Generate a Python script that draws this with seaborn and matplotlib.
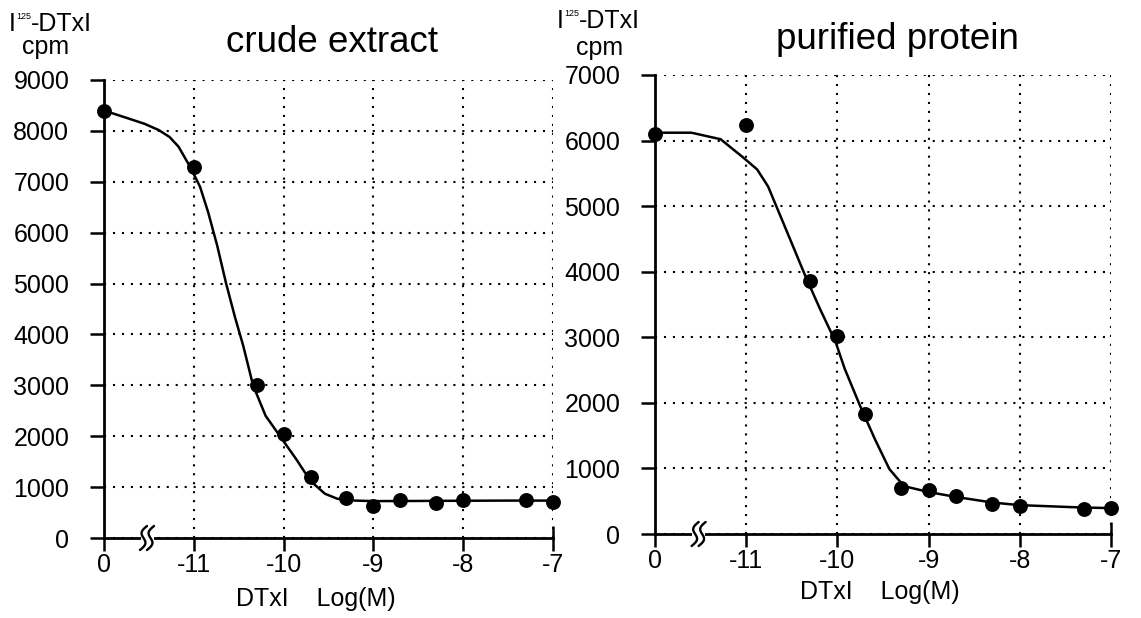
import numpy as np
import pandas as pd
import matplotlib
matplotlib.use("Agg")
import matplotlib.pyplot as plt
import seaborn as sns

# ---------------- data ----------------
# "0" (no DTxI) is drawn at position -12 on the log axis
log_conc = [-12, -11, -10.3, -10, -9.7, -9.3, -9, -8.7, -8.3, -8, -7.3, -7]
crude_cpm = [8400, 7290, 3000, 2050, 1190, 780, 630, 750, 690, 750, 740, 710]
purified_cpm = [6100, 6240, 3860, 3020, 1830, 700, 665, 575, 450, 420, 375, 400]

crude_curve_x = [-12, -11.73, -11.55, -11.39, -11.27, -11.17, -11.04, -10.93, -10.84,
                 -10.74, -10.64, -10.54, -10.45, -10.34, -10.2, -10.04, -9.86, -9.7, -9.54,
                 -9.4, -9.2, -9.0, -8.5, -8.0, -7.5, -7.0]
crude_curve_y = [8400, 8245, 8140, 8016, 7880, 7690, 7290, 6900, 6400,
                 5750, 5000, 4330, 3780, 3000, 2400, 2000, 1550, 1120, 870,
                 770, 735, 725, 728, 732, 735, 735]

pur_curve_x = [-12, -11.6, -11.28, -11.04, -10.88, -10.76, -10.67, -10.52, -10.35,
               -10.19, -10.02, -9.92, -9.75, -9.59, -9.43, -9.27, -9.0, -8.7,
               -8.3, -8.0, -7.34, -7.0]
pur_curve_y = [6120, 6120, 6020, 5750, 5560, 5300, 5000, 4500, 3930,
               3430, 2930, 2520, 1950, 1450, 990, 730, 640, 565,
               480, 440, 405, 395]

x_ticks = [-12, -11, -10, -9, -8, -7]
x_tick_labels = ["0", "-11", "-10", "-9", "-8", "-7"]
crude_yticks = [0, 1000, 2000, 3000, 4000, 5000, 6000, 7000, 8000, 9000]
pur_yticks = [0, 1000, 2000, 3000, 4000, 5000, 6000, 7000]

titles = ["crude extract", "purified protein"]
xlabel = "DTxI    Log(M)"

# ---------------- style ----------------
sns.set_theme(style="ticks")
plt.rcParams["font.family"] = ["Liberation Sans", "DejaVu Sans"]

W, H = 1141, 618
fig = plt.figure(figsize=(W / 100, H / 100), dpi=100)
fig.patch.set_facecolor("white")

# pixel layout: x0, x1, ytop, ybottom
ax_boxes = [(104, 553, 80, 538), (655, 1111, 75, 534)]
xlabel_pos = [(316, 599), (880, 592)]
title_pos = [(332, 52), (897, 49)]
ylab_pos = [(9, 31, 46, 54), (557, 28, 600, 55)]


def px(x, y):
    return x / W, 1 - y / H


def make_ax(box):
    x0, x1, yt, yb = box
    return fig.add_axes([x0 / W, 1 - yb / H, (x1 - x0) / W, (yb - yt) / H])


def draw_break(ax, xdata, box):
    x0, x1, yt, yb = box
    wpx, hpx = x1 - x0, yb - yt
    xa = ax.transLimits.transform((xdata, 0))[0]
    ax.add_patch(plt.Rectangle((xa - 3 / wpx, -3 / hpx), 13 / wpx, 6 / hpx,
                               transform=ax.transAxes, facecolor="white",
                               edgecolor="none", clip_on=False, zorder=6))
    t = np.linspace(-1, 1, 60)
    for off in (0, 7):
        dx = -3.5 * np.sin(np.pi * t) + 3.5 * t + off
        dy = 12 * t
        ax.plot(xa + dx / wpx, dy / hpx, transform=ax.transAxes, color="black",
                lw=1.7, clip_on=False, zorder=7)


panels = [
    (crude_cpm, crude_curve_x, crude_curve_y, crude_yticks, 9000),
    (purified_cpm, pur_curve_x, pur_curve_y, pur_yticks, 7000),
]

for i, (cpm, cx, cy, yticks, ymax) in enumerate(panels):
    box = ax_boxes[i]
    ax = make_ax(box)
    df_pts = pd.DataFrame({"x": log_conc, "y": cpm})
    df_curve = pd.DataFrame({"x": cx, "y": cy})
    sns.lineplot(data=df_curve, x="x", y="y", sort=False, estimator=None,
                 color="black", lw=1.8, ax=ax, zorder=4)
    sns.scatterplot(data=df_pts, x="x", y="y", s=115, color="black",
                    edgecolor="black", linewidth=0, ax=ax, zorder=5, clip_on=False)
    ax.set_xlim(-12, -7)
    ax.set_ylim(0, ymax)
    ax.set_xticks(x_ticks)
    ax.set_xticklabels(x_tick_labels)
    ax.set_yticks(yticks)
    ax.set_yticklabels([str(v) for v in yticks])
    ax.grid(True, linestyle=(0, (1, 3.3)), color="black", lw=1.5)
    for s in ("top", "right"):
        ax.spines[s].set_visible(False)
    for s in ("left", "bottom"):
        ax.spines[s].set_color("black")
        ax.spines[s].set_linewidth(2.0)
    ax.tick_params(axis="y", direction="out", length=10, width=1.8, color="black",
                   labelsize=18, pad=15, labelcolor="black")
    ax.tick_params(axis="x", direction="out", length=9, width=1.8, color="black",
                   labelsize=18, pad=2, labelcolor="black")
    # last x tick crosses the axis
    last = ax.xaxis.get_major_ticks()[-1]
    last.tick1line.set_marker("|")
    last.tick1line.set_markersize(18)
    ax.set_xlabel("")
    ax.set_ylabel("")
    ax.set_facecolor("white")
    draw_break(ax, -11.56, box)

    # x label
    fig.text(*px(*xlabel_pos[i]), xlabel, ha="center", va="center",
             fontsize=18, color="black")
    # title
    fig.text(*px(*title_pos[i]), titles[i], ha="center", va="baseline",
             fontsize=26.5, color="black")
    # y label: I^125-DTxI / cpm
    lx, lb, cxp, cb = ylab_pos[i]
    fig.text(*px(lx, lb), "I", ha="left", va="baseline", fontsize=18, color="black")
    fig.text(*px(lx + 7, lb - 12), "125", ha="left", va="baseline", fontsize=6.5, color="black")
    fig.text(*px(lx + 22, lb), "-DTxI", ha="left", va="baseline", fontsize=18, color="black")
    fig.text(*px(cxp, cb), "cpm", ha="center", va="baseline", fontsize=18, color="black")

fig.savefig("out.png", dpi=100)
